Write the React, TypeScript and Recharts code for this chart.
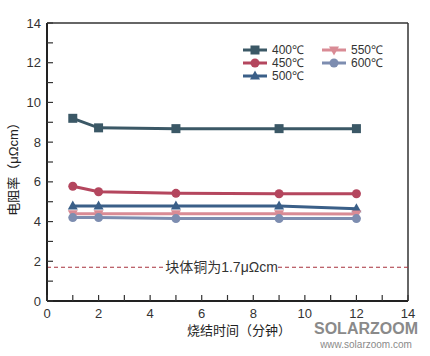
import { LineChart, Line, XAxis, YAxis, ReferenceLine } from 'recharts'

const times = [1, 2, 5, 9, 12]
const r400 = [9.2, 8.72, 8.68, 8.68, 8.68]
const r450 = [5.78, 5.5, 5.42, 5.4, 5.4]
const r500 = [4.78, 4.78, 4.78, 4.78, 4.65]
const r550 = [4.4, 4.4, 4.4, 4.4, 4.38]
const r600 = [4.2, 4.2, 4.15, 4.15, 4.15]
const axisTicks = [0, 1, 2, 3, 4, 5, 6, 7, 8, 9, 10, 11, 12, 13, 14]
const bulkCopper = 1.7

const series = [
  { key: 't400', name: '400℃', color: '#3b5866', shape: 'square' },
  { key: 't450', name: '450℃', color: '#b4465e', shape: 'circle' },
  { key: 't500', name: '500℃', color: '#3a5f88', shape: 'triangle' },
  { key: 't550', name: '550℃', color: '#d98b95', shape: 'down' },
  { key: 't600', name: '600℃', color: '#7d8db0', shape: 'circle' },
]

const data = times.map((t, i) => ({
  time: t,
  t400: r400[i],
  t450: r450[i],
  t500: r500[i],
  t550: r550[i],
  t600: r600[i],
}))

const latin = '"Liberation Sans", Arial, sans-serif'
const cjk = '"Liberation Sans", "Noto Sans CJK SC", sans-serif'

function Marker({ cx, cy, shape, color }: any) {
  if (cx == null || cy == null) return null
  if (shape === 'square') return <rect x={cx - 4.5} y={cy - 4.5} width={9} height={9} fill={color} />
  if (shape === 'triangle')
    return <polygon points={`${cx},${cy - 5.5} ${cx + 5},${cy + 3.5} ${cx - 5},${cy + 3.5}`} fill={color} />
  if (shape === 'down')
    return <polygon points={`${cx},${cy + 5.5} ${cx + 5},${cy - 3.5} ${cx - 5},${cy - 3.5}`} fill={color} />
  return <circle cx={cx} cy={cy} r={4.5} fill={color} />
}

function YTick({ x, y, payload }: any) {
  const ax = x + 6
  return (
    <g>
      <line x1={ax} x2={ax + 6} y1={y} y2={y} stroke="#333" strokeWidth={1.2} />
      {payload.value % 2 === 0 && (
        <text x={x} y={y} dy={4.5} textAnchor="end" fontSize={13} fill="#333" fontFamily={latin}>
          {payload.value}
        </text>
      )}
    </g>
  )
}

function XTick({ x, y, payload }: any) {
  const ay = y - 5
  return (
    <g>
      <line x1={x} x2={x} y1={ay} y2={ay - 6} stroke="#333" strokeWidth={1.2} />
      {payload.value % 2 === 0 && (
        <text x={x} y={y} dy={12} textAnchor="middle" fontSize={13} fill="#333" fontFamily={latin}>
          {payload.value}
        </text>
      )}
    </g>
  )
}

function CopperLabel({ viewBox }: any) {
  const cx = viewBox.x + viewBox.width / 2 - 6
  const cy = viewBox.y
  return (
    <g>
      <rect x={cx - 56} y={cy - 9} width={112} height={18} fill="#fff" />
      <text x={cx} y={cy} dy={5} textAnchor="middle" fontSize={14} fill="#333" fontFamily={cjk}>
        块体铜为1.7μΩcm
      </text>
    </g>
  )
}

function LegendBox() {
  const pos = [
    [243, 50],
    [243, 63],
    [243, 76],
    [322, 50],
    [322, 63],
  ]
  return (
    <svg width={430} height={356} style={{ position: 'absolute', left: 0, top: 0, pointerEvents: 'none' }}>
      {series.map((s, i) => {
        const [lx, ly] = pos[i]
        return (
          <g key={s.key}>
            <line x1={lx} x2={lx + 24} y1={ly} y2={ly} stroke={s.color} strokeWidth={3} />
            <Marker cx={lx + 12} cy={ly} shape={s.shape} color={s.color} />
            <text x={lx + 29} y={ly} dy={4.2} fontSize={12} fill="#333" fontFamily={latin}>
              {s.name}
            </text>
          </g>
        )
      })}
      <text x={239} y={335} textAnchor="middle" fontSize={13} fill="#222" fontFamily={cjk}>
        烧结时间（分钟）
      </text>
      <text
        transform="translate(18,166) rotate(-90)"
        textAnchor="middle"
        fontSize={13}
        fill="#222"
        fontFamily={cjk}
      >
        电阻率（μΩcm）
      </text>
      <text x={366} y={334} textAnchor="middle" fontSize={16} fontWeight="bold" fill="#8a8a8a" fontFamily={latin}>
        SOLARZOOM
      </text>
      <text x={366} y={348} textAnchor="middle" fontSize={10} fill="#8a8a8a" fontFamily={latin}>
        www.solarzoom.com
      </text>
    </svg>
  )
}

export default function App() {
  return (
    <div style={{ position: 'absolute', left: 0, top: 0, width: 430, height: 356, background: '#fff' }}>
      <LineChart width={430} height={356} data={data} margin={{ top: 23, right: 22, bottom: 0, left: 0 }}>
        <XAxis
          dataKey="time"
          type="number"
          domain={[0, 14]}
          ticks={axisTicks}
          interval={0}
          tickSize={0}
          tickMargin={5}
          tickLine={false}
          tick={<XTick />}
          height={55}
          stroke="#222"
          strokeWidth={2}
        />
        <YAxis
          type="number"
          domain={[0, 14]}
          ticks={axisTicks}
          interval={0}
          tickSize={0}
          tickMargin={6}
          tickLine={false}
          tick={<YTick />}
          width={47}
          stroke="#222"
          strokeWidth={2}
        />
        <ReferenceLine y={14} stroke="#333" strokeWidth={1.5} />
        <ReferenceLine x={14} stroke="#333" strokeWidth={1.5} />
        <ReferenceLine
          y={bulkCopper}
          stroke="#a8323c"
          strokeWidth={1.2}
          strokeDasharray="4 3"
          label={<CopperLabel />}
        />
        {series.map((s) => (
          <Line
            key={s.key}
            dataKey={s.key}
            name={s.name}
            stroke={s.color}
            strokeWidth={3}
            dot={(p: any) => <Marker key={`${s.key}-${p.index}`} cx={p.cx} cy={p.cy} shape={s.shape} color={s.color} />}
            activeDot={false}
            isAnimationActive={false}
          />
        ))}
      </LineChart>
      <LegendBox />
    </div>
  )
}
